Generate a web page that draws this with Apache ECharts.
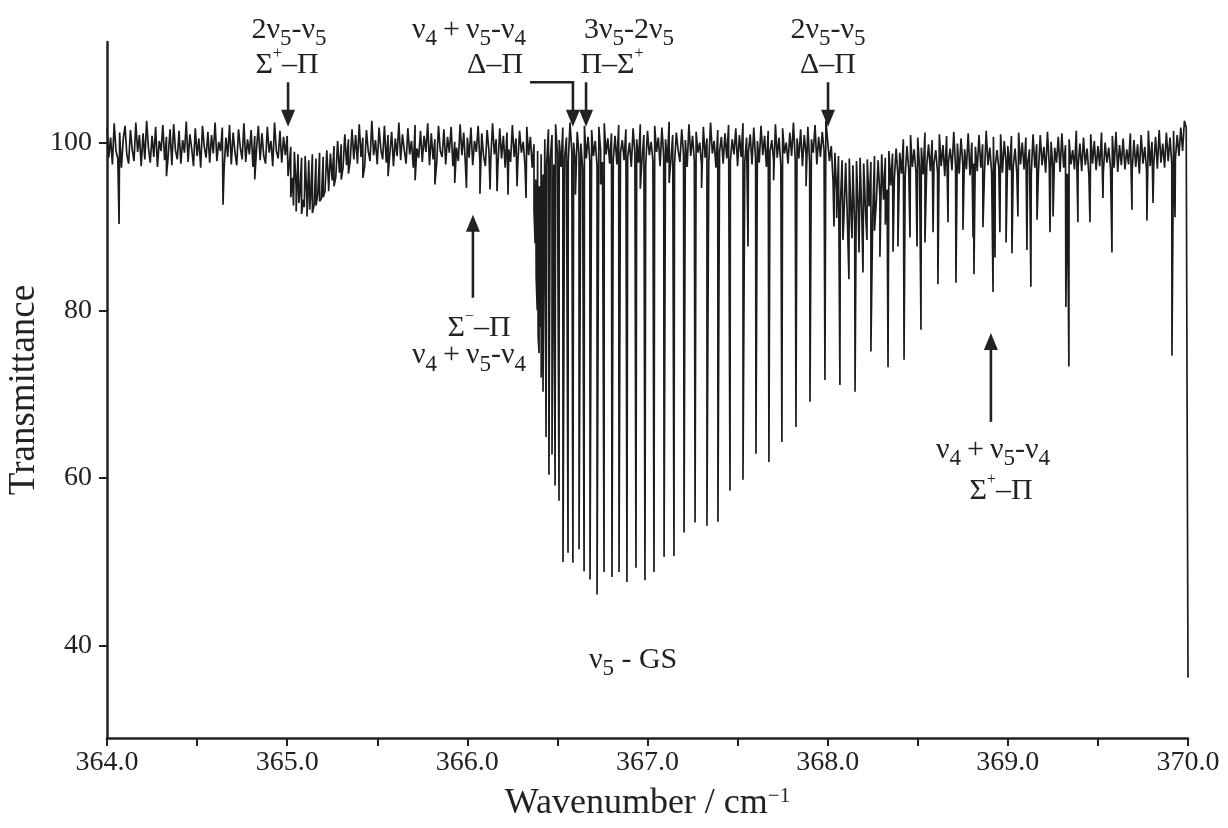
<!DOCTYPE html>
<html>
<head>
<meta charset="utf-8">
<script src="https://cdn.jsdelivr.net/npm/echarts@6/dist/echarts.min.js"></script>
<style>html,body{margin:0;padding:0;background:#fff}#c{width:1228px;height:828px}</style>
</head>
<body>
<div id="c"></div>
<script>
// ---- data ----
const xTickLabels = [364.0, 365.0, 366.0, 367.0, 368.0, 369.0, 370.0];
const yTickLabels = [40, 60, 80, 100];

// baseline trace (noise), sampled from 364.00 every 0.01 cm-1
const baselineStart = 364.0;
const baselineStep = 0.01;
const baseline = [
101.8,98.2,100.6,97.4,102.3,99.0,98.1,101.2,97.0,100.4,
102.0,98.6,97.5,101.5,99.2,97.8,102.4,98.9,100.9,97.2,
101.1,98.0,102.6,99.4,97.6,100.8,98.3,101.9,97.1,100.2,
99.0,102.1,97.9,100.7,98.5,101.6,97.3,102.2,99.1,98.0,
101.4,97.5,100.3,98.8,102.5,97.7,101.0,99.3,97.2,101.7,
98.4,100.5,97.0,102.0,99.5,98.2,101.3,97.6,100.9,98.7,
102.4,97.8,100.1,99.0,101.8,96.9,100.6,98.3,102.1,97.4,
101.2,98.9,97.3,101.6,99.4,98.0,102.3,97.7,100.4,98.6,
101.5,97.1,100.8,99.2,102.0,97.9,101.1,98.4,97.5,101.9,
98.8,100.2,97.2,102.4,99.0,98.1,101.4,97.6,100.7,98.5,
100.8,97.0,99.5,95.8,98.9,94.6,98.6,93.8,98.2,93.2,
98.4,92.8,97.9,93.5,98.6,92.6,98.1,93.9,98.8,93.3,
98.3,94.2,99.1,94.8,98.7,95.5,99.6,95.9,100.2,96.4,
99.8,97.0,101.0,97.3,100.4,97.8,101.6,98.0,100.9,97.5,
102.2,98.3,100.6,97.1,101.5,99.0,97.8,102.6,98.5,100.3,
97.4,101.8,99.2,98.0,102.0,97.6,100.9,98.7,101.3,97.2,
100.5,98.4,102.4,97.9,101.0,99.1,97.5,101.7,98.6,100.2,
97.0,102.1,99.3,98.2,101.4,97.7,100.8,98.9,102.3,97.3,
101.1,98.0,100.4,97.6,102.0,99.0,98.3,101.6,97.4,100.7,
98.8,101.9,97.2,100.1,99.4,97.8,102.2,98.5,101.2,97.1,
100.6,98.2,101.8,97.3,100.2,98.9,102.0,97.6,101.1,98.4,
97.2,101.5,99.0,97.9,102.3,98.6,100.4,97.4,101.7,98.1,
100.8,97.0,101.2,99.2,97.7,102.1,98.3,100.5,97.5,101.4,
98.8,100.1,97.3,101.9,98.5,100.7,97.0,99.8,95.6,99.0,
94.8,98.6,96.2,100.4,97.3,101.6,98.0,100.9,97.4,102.2,
98.7,100.3,97.1,101.8,98.2,100.6,97.6,102.4,98.9,100.0,
97.3,101.3,98.5,99.9,97.0,102.0,98.1,100.7,97.8,101.5,
98.4,100.2,97.2,101.9,99.0,97.7,102.3,98.6,100.5,97.5,
101.1,98.0,100.8,97.4,102.1,98.8,100.3,97.9,101.6,98.3,
100.0,97.1,101.7,98.7,100.4,97.6,102.2,98.2,100.9,97.3,
101.4,98.5,100.1,97.8,102.0,98.9,100.6,97.2,101.8,98.3,
100.4,97.6,102.5,98.0,100.9,97.4,101.2,99.1,97.7,101.6,
98.6,100.3,97.1,102.2,98.4,100.8,97.9,101.3,98.8,100.0,
97.3,101.9,98.2,100.5,97.6,102.4,98.7,100.2,97.0,101.5,
98.9,100.7,97.5,101.1,98.1,102.1,97.8,100.4,98.6,101.7,
97.2,100.9,98.3,102.3,97.7,100.6,98.8,101.0,97.4,101.8,
98.0,100.2,97.6,102.0,98.5,100.8,97.1,101.4,98.9,100.3,
97.8,102.2,98.2,100.6,97.3,101.7,98.7,100.0,97.5,101.2,
98.4,102.4,97.9,100.5,98.1,101.6,97.2,100.9,98.6,101.9,
97.6,100.4,98.8,102.1,97.4,100.7,98.3,101.3,99.0,102.6,
100.2,97.8,99.6,95.4,98.8,93.9,98.4,92.2,97.9,91.0,
97.6,90.4,98.1,91.2,97.3,90.0,97.8,91.5,98.2,90.8,
97.5,91.8,98.0,92.4,97.7,91.3,98.4,92.9,97.9,93.5,
98.6,93.2,98.2,94.4,99.0,94.9,98.7,95.6,99.3,96.0,
98.8,96.3,100.4,95.9,99.6,96.8,100.9,97.1,99.2,96.5,
100.6,97.0,99.4,96.2,101.2,97.3,99.8,96.6,100.3,97.5,
99.1,96.4,101.0,97.2,99.7,96.0,100.8,97.6,99.3,96.7,
101.3,97.1,99.9,96.3,100.5,97.4,99.2,96.8,101.1,96.1,
100.0,97.5,99.5,96.6,100.9,97.0,99.8,96.2,101.4,97.3,
99.4,96.5,100.7,97.2,99.1,96.9,101.0,96.4,100.2,97.6,
99.6,96.7,100.8,97.1,99.3,96.3,101.2,97.4,100.0,96.8,
100.6,97.5,99.2,96.2,101.0,97.0,99.8,96.6,100.9,97.3,
99.5,96.4,101.3,97.2,100.1,96.9,99.4,97.6,100.7,96.5,
101.1,97.0,99.7,96.3,100.4,97.4,99.1,96.8,101.4,97.1,
99.9,96.6,100.6,97.3,99.3,96.1,101.0,97.5,100.2,96.7,
99.6,97.2,101.2,96.4,100.0,97.6,99.4,96.9,100.8,97.0,
101.3,96.5,99.7,97.3,100.5,96.8,99.2,97.4,101.1,96.6,
100.3,97.1,99.8,96.3,100.9,97.5,99.5,96.7,101.4,97.2,
100.1,97.4,100.7,96.9,101.5,97.6,99.9,97.0,101.2,97.8,
100.6,97.5,101.4,98.0,100.9,98.4,101.8,99.0,102.6,101.8
];

// strong lines of the nu5 - GS band: [wavenumber, minimum transmittance]
const mainLines = [
[366.370,92.0],[366.376,88.0],[366.382,84.0],[366.388,80.0],[366.393,77.0],[366.398,74.9],
[366.404,78.0],[366.410,72.0],[366.420,70.3],[366.437,64.9],[366.453,60.4],[366.470,62.8],
[366.487,59.1],[366.509,57.3],[366.531,50.0],[366.559,51.1],[366.586,49.9],[366.620,51.5],
[366.648,48.9],[366.681,47.9],[366.720,46.1],[366.759,48.8],[366.803,48.2],[366.842,48.8],
[366.886,47.6],[366.936,49.3],[366.986,47.8],[367.036,48.8],[367.092,50.6],[367.147,50.7],
[367.203,53.5],[367.264,54.7],[367.330,54.3],[367.391,54.8],[367.458,58.5],[367.530,59.8],
[367.602,62.9],[367.674,61.9],[367.746,64.3],[367.824,66.1],[367.902,69.1],[367.985,71.7],
[368.068,71.1],[368.152,70.3],[368.240,75.1],[368.335,73.2],[368.424,74.1],[368.518,77.7],
[368.612,83.1],[368.712,83.3],[368.812,84.3],[368.918,82.2],[369.023,86.8],[369.128,82.8],
[369.234,89.3],[369.322,80.4],[369.339,73.3],[369.578,86.9],[369.772,90.7],[369.911,74.6],
[370.000,36.2]
];

// weaker lines (hot bands and others)
const weakLines = [
[364.067,90.3],[364.330,96.0],[364.644,92.6],[364.820,95.6],
[365.005,96.0],[365.020,93.5],[365.035,92.5],[365.050,91.8],[365.065,92.8],[365.080,91.5],
[365.095,92.3],[365.110,91.2],[365.125,92.0],[365.140,91.6],[365.160,92.5],[365.180,93.0],
[365.200,93.5],[365.230,94.2],[365.260,94.8],[365.300,95.6],[365.340,96.3],
[365.420,95.8],[365.560,96.0],[365.710,95.5],[365.820,95.0],[365.930,95.2],[365.995,94.6],
[366.070,93.9],[366.126,94.4],[366.165,94.2],[366.226,93.8],[366.276,94.8],[366.326,93.4],
[366.600,93.8],[366.740,95.0],[366.960,94.5],[367.120,95.2],[367.300,94.6],[367.558,87.6],
[367.700,95.5],[367.880,94.8],
[368.035,90.0],[368.050,91.0],[368.085,88.4],[368.118,83.7],[368.135,88.6],[368.174,86.9],
[368.196,84.5],[368.218,88.4],[368.260,89.5],[368.290,86.4],[368.320,90.2],[368.363,87.0],
[368.390,87.6],[368.457,88.7],[368.496,87.6],[368.540,88.1],[368.585,89.3],[368.668,90.5],
[368.751,89.6],[368.807,88.7],[368.862,89.9],[368.929,86.3],[368.956,89.3],[368.990,88.1],
[369.056,91.2],[369.106,87.2],[369.162,90.8],[369.251,91.2],[369.389,90.5],[369.456,90.5],
[369.528,93.4],[369.689,92.0],[369.806,92.8],[369.928,91.1]
];

// ---- build trace ----
const trace = baseline.map((v, i) => [+(baselineStart + i * baselineStep).toFixed(3), v]);
mainLines.forEach(p => trace.push(p));
weakLines.forEach(p => trace.push(p));
trace.sort((a, b) => a[0] - b[0]);

const FONT = '"Liberation Serif", "Times New Roman", serif';
const INK = '#222222';

const chart = echarts.init(document.getElementById('c'), null, {renderer: 'canvas'});
chart.setOption({
  animation: false,
  backgroundColor: '#ffffff',
  grid: {left: 107, right: 40, top: 42, bottom: 90, containLabel: false, outerBoundsMode: 'none'},
  xAxis: {
    type: 'value', min: 364, max: 370, interval: 0.5,
    name: 'Wavenumber / cm{sup|−1}',
    nameLocation: 'middle', nameGap: 48, nameMoveOverlap: false,
    nameTextStyle: {
      fontFamily: FONT, fontSize: 36, color: INK,
      rich: {sup: {fontFamily: FONT, fontSize: 21, color: INK, verticalAlign: 'top', lineHeight: 21}}
    },
    axisLine: {lineStyle: {color: INK, width: 2.5}},
    axisTick: {show: true, inside: false, length: 8, lineStyle: {color: INK, width: 2}},
    axisLabel: {
      fontFamily: FONT, fontSize: 28, color: INK, margin: 11,
      formatter: v => xTickLabels.some(t => Math.abs(t - v) < 1e-6) ? v.toFixed(1) : ''
    },
    splitLine: {show: false}
  },
  yAxis: {
    type: 'value', min: 29, max: 112,
    name: 'Transmittance', nameLocation: 'middle', nameGap: 64, nameRotate: 90, nameMoveOverlap: false,
    nameTextStyle: {fontFamily: FONT, fontSize: 37, color: INK},
    axisLine: {show: true, lineStyle: {color: INK, width: 2.5}},
    axisTick: {show: true, length: 8, lineStyle: {color: INK, width: 2}, customValues: yTickLabels},
    axisLabel: {fontFamily: FONT, fontSize: 28, color: INK, margin: 15, customValues: yTickLabels},
    splitLine: {show: false}
  },
  series: [{
    type: 'line', data: trace, showSymbol: false, symbol: 'none',
    lineStyle: {color: '#1c1c1c', width: 1.7}, clip: true
  }]
});

// ---- annotations ----
const PLUS = '\u2009+\u2009';
const annotations = {
  texts: [
    {segs: [['2ν','n'],['5','sub'],['-ν','n'],['5','sub']], at: [365.010, 113.4]},
    {segs: [['Σ','n'],['+','sup'],['–Π','n']], at: [365.000, 109.3]},
    {segs: [['ν','n'],['4','sub'],[PLUS + 'ν','n'],['5','sub'],['-ν','n'],['4','sub']], at: [366.009, 113.4]},
    {segs: [['Δ–Π','n']], at: [366.154, 109.3]},
    {segs: [['3ν','n'],['5','sub'],['-2ν','n'],['5','sub']], at: [366.897, 113.4]},
    {segs: [['Π–Σ','n'],['+','sup']], at: [366.803, 109.3]},
    {segs: [['2ν','n'],['5','sub'],['-ν','n'],['5','sub']], at: [368.002, 113.4]},
    {segs: [['Δ–Π','n']], at: [368.002, 109.3]},
    {segs: [['Σ','n'],['−','sup'],['–Π','n']], at: [366.065, 77.9]},
    {segs: [['ν','n'],['4','sub'],[PLUS + 'ν','n'],['5','sub'],['-ν','n'],['4','sub']], at: [366.009, 74.6]},
    {segs: [['ν','n'],['4','sub'],[PLUS + 'ν','n'],['5','sub'],['-ν','n'],['4','sub']], at: [368.918, 63.3]},
    {segs: [['Σ','n'],['+','sup'],['–Π','n']], at: [368.962, 58.5]},
    {segs: [['ν','n'],['5','sub'],[' - GS','n']], at: [366.920, 38.3]}
  ],
  arrows: [
    [[365.005, 107.2], [365.005, 101.9]],
    [[366.348, 107.2], [366.586, 107.2], [366.586, 101.9]],
    [[366.659, 107.2], [366.659, 101.9]],
    [[368.002, 107.2], [368.002, 101.9]],
    [[366.031, 81.5], [366.031, 91.4]],
    [[368.906, 66.7], [368.906, 77.3]]
  ]
};

const sizes = {n: 30, sub: 23, sup: 16};
const offs = {n: 0, sub: 9, sup: -11};
const mctx = document.createElement('canvas').getContext('2d');
function labelGroup(segs, cx, cy) {
  const widths = segs.map(([t, k]) => { mctx.font = sizes[k] + 'px ' + FONT; return mctx.measureText(t).width; });
  const total = widths.reduce((a, b) => a + b, 0);
  let cur = cx - total / 2;
  return segs.map(([t, k], i) => {
    const el = {
      type: 'text', x: cur, y: cy + offs[k], silent: true,
      style: {text: t, fontFamily: FONT, fontSize: sizes[k], fill: INK,
              align: 'left', textAlign: 'left', verticalAlign: 'middle', textVerticalAlign: 'middle'}
    };
    cur += widths[i];
    return el;
  });
}
function arrowEls(ptsData) {
  const pts = ptsData.map(p => chart.convertToPixel({gridIndex: 0}, p));
  const n = pts.length;
  const [x2, y2] = pts[n - 1], [x1, y1] = pts[n - 2];
  const dx = x2 - x1, dy = y2 - y1, len = Math.hypot(dx, dy);
  const ux = dx / len, uy = dy / len;
  const hl = 17, hw = 7;
  const bx = x2 - ux * hl, by = y2 - uy * hl;
  const linePts = pts.slice(0, n - 1).concat([[bx + ux * 2, by + uy * 2]]);
  return [
    {type: 'polyline', silent: true, shape: {points: linePts}, style: {stroke: INK, lineWidth: 2.6, fill: null}},
    {type: 'polygon', silent: true, shape: {points: [[x2, y2], [bx - uy * hw, by + ux * hw], [bx + uy * hw, by - ux * hw]]},
     style: {fill: INK, stroke: null}}
  ];
}
const els = [];
annotations.texts.forEach(a => {
  const [px, py] = chart.convertToPixel({gridIndex: 0}, a.at);
  labelGroup(a.segs, px, py).forEach(e => els.push(e));
});
annotations.arrows.forEach(a => arrowEls(a).forEach(e => els.push(e)));
chart.setOption({graphic: {elements: els}});
</script>
</body>
</html>
